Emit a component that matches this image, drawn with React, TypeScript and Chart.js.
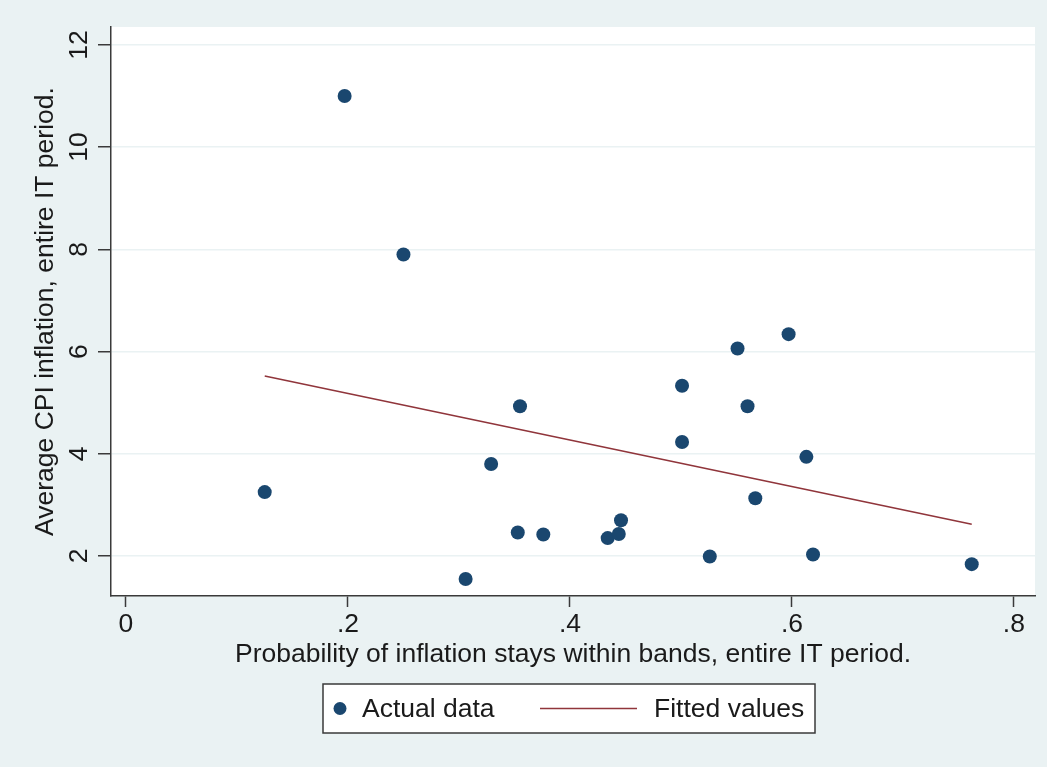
import React, { useEffect, useRef } from 'react';
import { Chart, registerables } from 'chart.js';

Chart.register(...registerables);

// ---- data ----
const probX = [0.125, 0.197, 0.25, 0.306, 0.329, 0.355, 0.353, 0.376, 0.434, 0.444, 0.446, 0.501, 0.501, 0.526, 0.551, 0.56, 0.567, 0.597, 0.613, 0.619, 0.762];
const cpiY = [3.25, 11.0, 7.9, 1.55, 3.8, 4.93, 2.46, 2.42, 2.35, 2.43, 2.7, 5.33, 4.23, 1.99, 6.06, 4.93, 3.13, 6.34, 3.94, 2.03, 1.84];
const fitX = [0.125, 0.762];
const fitY = [5.52, 2.62];

const xTicks = [0, 0.2, 0.4, 0.6, 0.8];
const xTickLabels = ['0', '.2', '.4', '.6', '.8'];
const yTicks = [2, 4, 6, 8, 10, 12];
const yTickLabels = ['2', '4', '6', '8', '10', '12'];
const seriesLabels = ['Actual data', 'Fitted values'];
const xTitle = 'Probability of inflation stays within bands, entire IT period.';
const yTitle = 'Average CPI inflation, entire IT period.';

const FONT = '"Liberation Sans", Arial, Helvetica, sans-serif';
const FS = 26.5;
const BG = '#eaf2f3';
const DOT = '#1a476f';
const FIT = '#90353b';

const bgPlugin = {
  id: 'stataBg',
  beforeDraw(chart: any) {
    const { ctx, chartArea: ca, width, height } = chart;
    ctx.save();
    ctx.fillStyle = BG;
    ctx.fillRect(0, 0, width, height);
    ctx.fillStyle = '#ffffff';
    ctx.fillRect(ca.left, ca.top, ca.right - ca.left, ca.bottom - ca.top);
    ctx.restore();
  },
};

const legendPlugin = {
  id: 'stataLegend',
  afterDraw(chart: any) {
    const { ctx, chartArea: ca } = chart;
    const ds = chart.data.datasets;
    const cx = (ca.left + ca.right) / 2;
    const bx = cx - 250;
    const by = ca.bottom + 88;
    const bw = 492;
    const bh = 49;
    const my = by + bh / 2;
    ctx.save();
    ctx.fillStyle = '#ffffff';
    ctx.fillRect(bx, by, bw, bh);
    ctx.strokeStyle = '#3a3a3a';
    ctx.lineWidth = 1.5;
    ctx.strokeRect(bx, by, bw, bh);
    // item 1: dot
    ctx.fillStyle = ds[0].backgroundColor;
    ctx.beginPath();
    ctx.arc(bx + 17, my, 6.5, 0, Math.PI * 2);
    ctx.fill();
    ctx.fillStyle = '#1a1a1a';
    ctx.font = `${FS}px ${FONT}`;
    ctx.textBaseline = 'middle';
    ctx.textAlign = 'left';
    ctx.fillText(seriesLabels[0], bx + 39, my + 1);
    // item 2: line
    ctx.strokeStyle = ds[1].borderColor;
    ctx.lineWidth = 1.5;
    ctx.beginPath();
    ctx.moveTo(bx + 217, my);
    ctx.lineTo(bx + 314, my);
    ctx.stroke();
    ctx.fillText(seriesLabels[1], bx + 331, my + 1);
    ctx.restore();
  },
};

export default function App() {
  const ref = useRef<HTMLCanvasElement | null>(null);

  useEffect(() => {
    if (!ref.current) return;
    const chart = new Chart(ref.current, {
      type: 'scatter',
      data: {
        datasets: [
          {
            label: seriesLabels[0],
            data: probX.map((x, i) => ({ x, y: cpiY[i] })),
            backgroundColor: DOT,
            borderColor: DOT,
            pointRadius: 7,
            pointBorderWidth: 0,
            order: 1,
          },
          {
            type: 'line',
            label: seriesLabels[1],
            data: fitX.map((x, i) => ({ x, y: fitY[i] })),
            borderColor: FIT,
            backgroundColor: FIT,
            borderWidth: 1.6,
            pointRadius: 0,
            showLine: true,
            fill: false,
            order: 0,
          } as any,
        ],
      },
      options: {
        responsive: false,
        animation: false,
        events: [],
        layout: { padding: { left: 0, top: 27, right: 12, bottom: 91 } },
        plugins: {
          legend: { display: false },
          tooltip: { enabled: false },
        },
        scales: {
          x: {
            type: 'linear',
            position: 'bottom',
            min: -0.0135,
            max: 0.819,
            afterBuildTicks: (s: any) => {
              s.ticks = xTicks.map((v) => ({ value: v }));
            },
            afterFit: (s: any) => {
              s.height = 80;
            },
            ticks: {
              autoSkip: false,
              maxRotation: 0,
              padding: 2,
              color: '#1a1a1a',
              font: { family: FONT, size: FS },
              callback: (_v: any, i: number) => xTickLabels[i],
            },
            grid: {
              drawOnChartArea: false,
              drawTicks: true,
              tickLength: 11,
              tickColor: '#3a3a3a',
              tickWidth: 1.5,
            },
            border: { display: true, color: '#3a3a3a', width: 1.5 },
            title: {
              display: true,
              text: xTitle,
              color: '#1a1a1a',
              font: { family: FONT, size: FS },
              padding: { top: 0, bottom: 5 },
            },
          },
          y: {
            type: 'linear',
            position: 'left',
            min: 1.217,
            max: 12.35,
            afterBuildTicks: (s: any) => {
              s.ticks = yTicks.map((v) => ({ value: v }));
            },
            afterFit: (s: any) => {
              s.width = 111;
            },
            ticks: {
              autoSkip: false,
              minRotation: 90,
              maxRotation: 90,
              crossAlign: 'center',
              padding: 4,
              color: '#1a1a1a',
              font: { family: FONT, size: FS },
              callback: (_v: any, i: number) => yTickLabels[i],
            },
            grid: {
              drawOnChartArea: true,
              color: BG,
              lineWidth: 1.5,
              drawTicks: true,
              tickLength: 13,
              tickColor: '#3a3a3a',
              tickWidth: 1.5,
            },
            border: { display: true, color: '#3a3a3a', width: 1.5 },
            title: {
              display: true,
              text: yTitle,
              color: '#1a1a1a',
              font: { family: FONT, size: FS },
              padding: { top: 30, bottom: 0 },
            },
          },
        },
      },
      plugins: [bgPlugin, legendPlugin],
    } as any);
    return () => chart.destroy();
  }, []);

  return (
    <div style={{ position: 'absolute', left: 0, top: 0, width: 1047, height: 767 }}>
      <canvas ref={ref} width={1047} height={767} style={{ display: 'block' }} />
    </div>
  );
}
